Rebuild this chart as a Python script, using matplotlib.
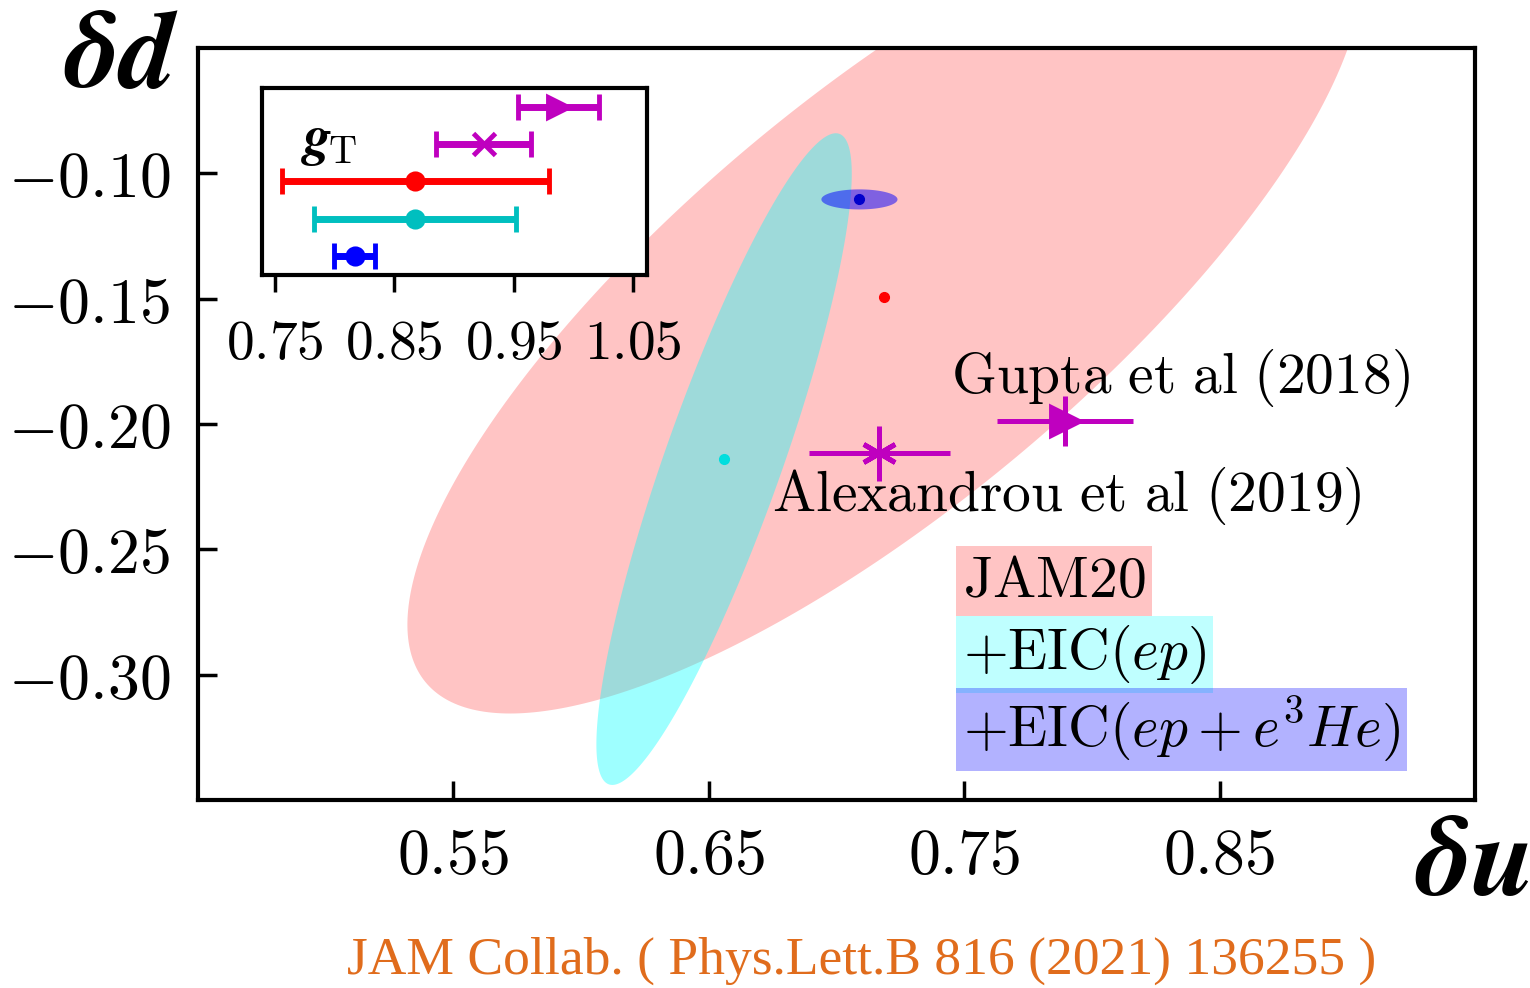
import numpy as np
import matplotlib
matplotlib.use('Agg')
import matplotlib.pyplot as plt

plt.rcParams['mathtext.fontset'] = 'cm'
plt.rcParams['font.family'] = ['DejaVu Serif']

# ---- main panel data ----
# ellipses: centre x, centre y, half extent in x, half extent in y, correlation
ell_names = ['JAM20', 'EIC_ep', 'EIC_ep_he3']
ell_cx = [0.719, 0.656, 0.709]
ell_cy = [-0.1505, -0.214, -0.1104]
ell_sx = [0.187, 0.0500, 0.0149]
ell_sy = [0.165, 0.130, 0.0040]
ell_rho = [0.785, 0.875, 0.0]
ell_colors = ['red', 'cyan', 'blue']
ell_alpha = [0.23, 0.38, 0.5]

# central values (dots)
dot_x = [0.7186, 0.656, 0.709]
dot_y = [-0.1492, -0.214, -0.1104]
dot_colors = ['red', '#00dede', '#0000cc']

# lattice results
lat_labels = ['Gupta et al (2018)', 'Alexandrou et al (2019)']
lat_du = [0.7895, 0.7168]
lat_dd = [-0.1988, -0.2116]
lat_du_err = [0.0265, 0.0275]
lat_dd_err = [0.010, 0.011]

xticks = [0.55, 0.65, 0.75, 0.85]
xticklabels = ['$0.55$', '$0.65$', '$0.75$', '$0.85$']
yticks = [-0.10, -0.15, -0.20, -0.25, -0.30]
yticklabels = ['$-0.10$', '$-0.15$', '$-0.20$', '$-0.25$', '$-0.30$']

# ---- inset (g_T) data ----
gt_val = [0.9875, 0.925, 0.8675, 0.8675, 0.8167]
gt_err = [0.034, 0.040, 0.112, 0.085, 0.017]
gt_row = [5, 4, 3, 2, 1]
gt_colors = ['m', 'm', 'red', 'c', 'blue']
gt_markers = ['>', 'x', 'o', 'o', 'o']
gt_msize = [14, 16, 11, 11, 11]
inset_ticks = [0.75, 0.85, 0.95, 1.05]
inset_ticklabels = ['$0.75$', '$0.85$', '$0.95$', '$1.05$']

legend_texts = [r'$\mathrm{JAM20}$', r'$+\mathrm{EIC}(ep)$', r'$+\mathrm{EIC}(ep+e^3He)$']
legend_colors = [(1.0, 0.0, 0.0, 0.23), (0.0, 1.0, 1.0, 0.25), (0.0, 0.0, 1.0, 0.3)]

fig = plt.figure(figsize=(15.3, 9.88), dpi=100)
ax = fig.add_axes([0.1294, 0.1903, 0.8346, 0.7611])

t = np.linspace(0, 2 * np.pi, 400)
for i in range(len(ell_names)):
    ex = ell_cx[i] + ell_sx[i] * np.cos(t)
    ey = ell_cy[i] + ell_sy[i] * (ell_rho[i] * np.cos(t) + np.sqrt(1 - ell_rho[i] ** 2) * np.sin(t))
    ax.fill(ex, ey, color=ell_colors[i], alpha=ell_alpha[i], lw=0, zorder=1 + i)
    ax.plot(dot_x[i], dot_y[i], 'o', color=dot_colors[i], ms=7, zorder=5)

lat_markers = ['>', (6, 2, 0)]
lat_ms = [20, 26]
for i in range(len(lat_labels)):
    ax.errorbar(lat_du[i], lat_dd[i], xerr=lat_du_err[i], yerr=lat_dd_err[i],
                fmt='none', ecolor='m', elinewidth=3.6, capsize=0, zorder=6)
    ax.plot(lat_du[i], lat_dd[i], marker=lat_markers[i], color='m', ms=lat_ms[i],
            mew=3.5, ls='none', zorder=7)

ax.text(0.7448, -0.1817, r'$\mathrm{Gupta\ et\ al\ (2018)}$', fontsize=41.4,
        va='center', ha='left', zorder=8)
ax.text(0.6748, -0.2287, r'$\mathrm{Alexandrou\ et\ al\ (2019)}$', fontsize=41.4,
        va='center', ha='left', zorder=8)

leg_y = [-0.2625, -0.2921, -0.3219]
for i in range(len(legend_texts)):
    ax.text(0.7494, leg_y[i], legend_texts[i], fontsize=41.5, va='center', ha='left',
            zorder=8, bbox=dict(boxstyle='square,pad=0.12', fc=legend_colors[i], ec='none'))

ax.set_xlim(0.45, 0.95)
ax.set_ylim(-0.35, -0.05)
ax.set_xticks(xticks)
ax.set_xticklabels(xticklabels)
ax.set_yticks(yticks)
ax.set_yticklabels(yticklabels)
ax.tick_params(direction='in', length=14, width=2.5, labelsize=46, pad=20)
ax.tick_params(axis='x', pad=19)
for s in ax.spines.values():
    s.set_linewidth(3)

fig.text(0.042, 0.912, r'$\boldsymbol{\delta d}$', fontsize=80, va='baseline', ha='left')
fig.text(0.925, 0.094, r'$\boldsymbol{\delta u}$', fontsize=82, va='baseline', ha='left')

# inset
ins = fig.add_axes([0.1712, 0.7217, 0.2517, 0.1892])
for i in range(len(gt_val)):
    ins.errorbar(gt_val[i], gt_row[i], xerr=gt_err[i], fmt=gt_markers[i], color=gt_colors[i],
                 ms=gt_msize[i], mew=3.5, elinewidth=5, capsize=9.5, capthick=3.5)
ins.text(0.7715, 4.1, r'$\boldsymbol{g}_{\!\mathrm{T}}$', fontsize=40, va='center', ha='left')
ins.set_xlim(0.739, 1.062)
ins.set_ylim(0.5, 5.5)
ins.set_yticks([])
ins.set_xticks(inset_ticks)
ins.set_xticklabels(inset_ticklabels)
ins.tick_params(axis='x', direction='out', length=12, width=2.5, labelsize=40, pad=18)
for s in ins.spines.values():
    s.set_linewidth(3)

fig.text(0.563, 0.014, 'JAM Collab. ( Phys.Lett.B 816 (2021) 136255 )', fontsize=38.5,
         family='Liberation Serif', color='#e06c1c', ha='center', va='baseline')

fig.savefig('out.png', dpi=100)
